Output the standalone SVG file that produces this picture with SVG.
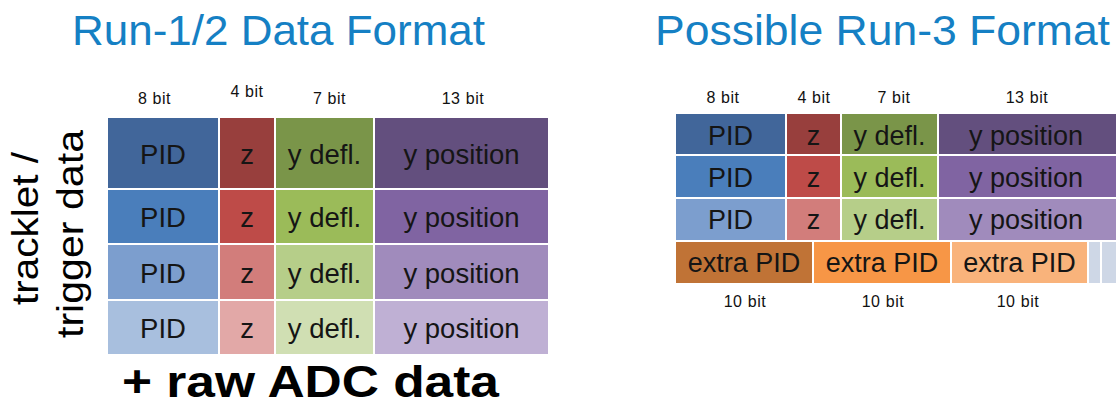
<svg xmlns="http://www.w3.org/2000/svg" width="1116" height="405" viewBox="0 0 1116 405">
<style>
.title{font-family:"Liberation Sans",Arial,sans-serif;font-size:43px;fill:#1580C4}
.bit{font-family:"Liberation Sans",Arial,sans-serif;font-size:16px;fill:#111;text-anchor:middle;letter-spacing:0.6px}
.cell{font-family:"Liberation Sans",Arial,sans-serif;font-size:27.5px;fill:#151515;text-anchor:middle}
.cellR{font-family:"Liberation Sans",Arial,sans-serif;font-size:27px;fill:#151515;text-anchor:middle}
.side{font-family:"Liberation Sans",Arial,sans-serif;font-size:36px;fill:#000}
.raw{font-family:"Liberation Sans",Arial,sans-serif;font-size:44px;font-weight:bold;fill:#000}
</style>
<rect width="1116" height="405" fill="#fff"/>

<g id="titles">
<text class="title" x="72" y="45" textLength="413" lengthAdjust="spacingAndGlyphs">Run-1/2 Data Format</text>
<text class="title" x="655" y="45" textLength="455" lengthAdjust="spacingAndGlyphs">Possible Run-3 Format</text>
</g>

<g id="left-bits">
<text class="bit" x="154.5" y="104">8 bit</text>
<text class="bit" x="247" y="97">4 bit</text>
<text class="bit" x="329.5" y="104">7 bit</text>
<text class="bit" x="463" y="104">13 bit</text>
</g>

<g id="side-label">
<text class="side" transform="translate(38,305) rotate(-90)" textLength="153" lengthAdjust="spacingAndGlyphs">tracklet /</text>
<text class="side" transform="translate(83,338) rotate(-90)" textLength="208" lengthAdjust="spacingAndGlyphs">trigger data</text>
</g>

<g id="left-table">
<g id="left-row1">
<rect x="108" y="118" width="110" height="70" fill="#41669A"/>
<rect x="220" y="118" width="54" height="70" fill="#983F3D"/>
<rect x="276" y="118" width="97" height="70" fill="#7A9549"/>
<rect x="375" y="118" width="173" height="70" fill="#634F7E"/>
<text class="cell" x="163" y="164">PID</text>
<text class="cell" x="247" y="164">z</text>
<text class="cell" x="324.5" y="164">y defl.</text>
<text class="cell" x="461.5" y="164">y position</text>
</g>
<g id="left-row2">
<rect x="108" y="190" width="110" height="53" fill="#4A7EBB"/>
<rect x="220" y="190" width="54" height="53" fill="#BE4B48"/>
<rect x="276" y="190" width="97" height="53" fill="#9BBB59"/>
<rect x="375" y="190" width="173" height="53" fill="#8064A2"/>
<text class="cell" x="163" y="227">PID</text>
<text class="cell" x="247" y="227">z</text>
<text class="cell" x="324.5" y="227">y defl.</text>
<text class="cell" x="461.5" y="227">y position</text>
</g>
<g id="left-row3">
<rect x="108" y="245" width="110" height="54" fill="#7C9ECE"/>
<rect x="220" y="245" width="54" height="54" fill="#D27D7B"/>
<rect x="276" y="245" width="97" height="54" fill="#B6CE89"/>
<rect x="375" y="245" width="173" height="54" fill="#A08BBC"/>
<text class="cell" x="163" y="283">PID</text>
<text class="cell" x="247" y="283">z</text>
<text class="cell" x="324.5" y="283">y defl.</text>
<text class="cell" x="461.5" y="283">y position</text>
</g>
<g id="left-row4">
<rect x="108" y="301" width="110" height="53" fill="#A8BFDE"/>
<rect x="220" y="301" width="54" height="53" fill="#E2A8A7"/>
<rect x="276" y="301" width="97" height="53" fill="#D0DFB3"/>
<rect x="375" y="301" width="173" height="53" fill="#BFB0D4"/>
<text class="cell" x="163" y="338">PID</text>
<text class="cell" x="247" y="338">z</text>
<text class="cell" x="324.5" y="338">y defl.</text>
<text class="cell" x="461.5" y="338">y position</text>
</g>
</g>

<g id="raw-label">
<text class="raw" x="122" y="397" textLength="377" lengthAdjust="spacingAndGlyphs">+ raw ADC data</text>
</g>

<g id="right-bits">
<text class="bit" x="723" y="103">8 bit</text>
<text class="bit" x="814" y="103">4 bit</text>
<text class="bit" x="894" y="103">7 bit</text>
<text class="bit" x="1027" y="103">13 bit</text>
<text class="bit" x="745" y="307">10 bit</text>
<text class="bit" x="883" y="307">10 bit</text>
<text class="bit" x="1018" y="307">10 bit</text>
</g>

<g id="right-table">
<g id="right-row1">
<rect x="676" y="114" width="109" height="40" fill="#41669A"/>
<rect x="787" y="114" width="53" height="40" fill="#983F3D"/>
<rect x="842" y="114" width="95" height="40" fill="#7A9549"/>
<rect x="939" y="114" width="177" height="40" fill="#634F7E"/>
<text class="cellR" x="730.5" y="145">PID</text>
<text class="cellR" x="813.5" y="145">z</text>
<text class="cellR" x="889.5" y="145">y defl.</text>
<text class="cellR" x="1026" y="145">y position</text>
</g>
<g id="right-row2">
<rect x="676" y="156" width="109" height="41" fill="#4A7EBB"/>
<rect x="787" y="156" width="53" height="41" fill="#BE4B48"/>
<rect x="842" y="156" width="95" height="41" fill="#9BBB59"/>
<rect x="939" y="156" width="177" height="41" fill="#8064A2"/>
<text class="cellR" x="730.5" y="187">PID</text>
<text class="cellR" x="813.5" y="187">z</text>
<text class="cellR" x="889.5" y="187">y defl.</text>
<text class="cellR" x="1026" y="187">y position</text>
</g>
<g id="right-row3">
<rect x="676" y="199" width="109" height="41" fill="#7C9ECE"/>
<rect x="787" y="199" width="53" height="41" fill="#D27D7B"/>
<rect x="842" y="199" width="95" height="41" fill="#B6CE89"/>
<rect x="939" y="199" width="177" height="41" fill="#A08BBC"/>
<text class="cellR" x="730.5" y="229">PID</text>
<text class="cellR" x="813.5" y="229">z</text>
<text class="cellR" x="889.5" y="229">y defl.</text>
<text class="cellR" x="1026" y="229">y position</text>
</g>
<g id="right-row4">
<rect x="676" y="242" width="136" height="41" fill="#C07336"/>
<rect x="814" y="242" width="136" height="41" fill="#F79646"/>
<rect x="952" y="242" width="135" height="41" fill="#F9B37B"/>
<rect x="1089" y="242" width="11" height="41" fill="#CED7E6"/>
<rect x="1102" y="242" width="14" height="41" fill="#CED7E6"/>
<text class="cellR" x="744" y="272">extra PID</text>
<text class="cellR" x="882" y="272">extra PID</text>
<text class="cellR" x="1019.5" y="272">extra PID</text>
</g>
</g>
</svg>
